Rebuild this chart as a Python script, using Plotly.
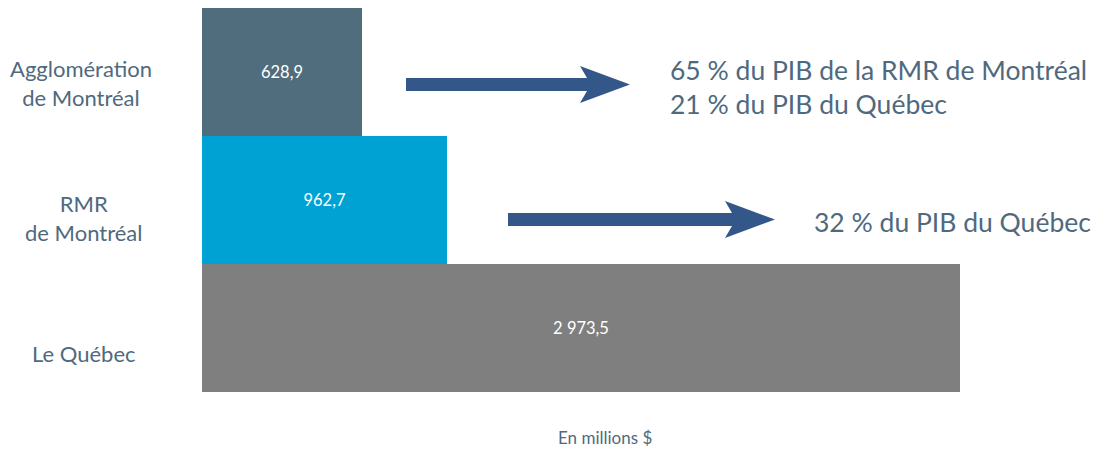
import plotly.graph_objects as go

# ---- data ----
categories = ["Le Québec", "RMR de Montréal", "Agglomération de Montréal"]
axis_labels = ["Le Québec", "RMR<br>de Montréal", "Agglomération<br>de Montréal"]
values = [2973.5, 962.7, 628.9]
value_labels = ["2 973,5", "962,7", "628,9"]
bar_colors = ["#7f7f7f", "#00a2d4", "#506d7e"]
notes_agglo = "65 % du PIB de la RMR de Montréal<br>21 % du PIB du Québec"
notes_rmr = "32 % du PIB du Québec"
x_title = "En millions $"

W, H = 1093, 449
ML, MR, MT, MB = 202, 0, 8, 57
PW = W - ML - MR
PH = H - MT - MB
XMAX = 3495

TEXT = "#4f6a7e"
ARROW = "#34578a"
FONT = "Lato"

def px_x(px):
    return (px - ML) / PW

def px_y(py):
    return 1 - (py - MT) / PH

fig = go.Figure()
fig.add_trace(go.Bar(
    y=categories, x=values, orientation="h",
    marker=dict(color=bar_colors, line=dict(width=0)),
    text=value_labels, textposition="inside", insidetextanchor="middle",
    textfont=dict(color="white", size=16.5, family=FONT),
    hoverinfo="skip",
))

def arrow_path(x0, x1, yc, shaft=6.5, head_h=18.5, head_l=50, notch=7):
    pts = [
        (x0, yc - shaft), (x1 - head_l + notch, yc - shaft), (x1 - head_l, yc - head_h),
        (x1, yc), (x1 - head_l, yc + head_h), (x1 - head_l + notch, yc + shaft), (x0, yc + shaft)
    ]
    return "M " + " L ".join(f"{px_x(a):.5f},{px_y(b):.5f}" for a, b in pts) + " Z"

shapes = [
    dict(type="path", xref="paper", yref="paper", path=arrow_path(406, 630, 84.5),
         fillcolor=ARROW, line=dict(width=0)),
    dict(type="path", xref="paper", yref="paper", path=arrow_path(508, 775, 219.5),
         fillcolor=ARROW, line=dict(width=0)),
]

def ann(text, x, y, size, xanchor="center", align="center"):
    return dict(text=text, x=px_x(x), y=px_y(y), xref="paper", yref="paper",
                xanchor=xanchor, yanchor="middle", showarrow=False, align=align,
                font=dict(size=size, color=TEXT, family=FONT))

annotations = [
    ann(axis_labels[2], 81, 83, 22),
    ann(axis_labels[1], 83, 217.5, 22),
    ann(axis_labels[0], 84, 353, 22),
    ann(notes_agglo, 668, 86.5, 26.5, xanchor="left", align="left"),
    ann(notes_rmr, 812, 221.5, 26.5, xanchor="left", align="left"),
    ann(x_title, 605, 437, 17),
]

fig.update_layout(
    width=W, height=H,
    margin=dict(l=ML, r=MR, t=MT, b=MB),
    paper_bgcolor="white", plot_bgcolor="white",
    bargap=0, showlegend=False,
    xaxis=dict(range=[0, XMAX], visible=False, fixedrange=True),
    yaxis=dict(range=[-0.5, 2.5], visible=False, fixedrange=True,
               categoryorder="array", categoryarray=categories),
    shapes=shapes, annotations=annotations,
    font=dict(family=FONT),
)

fig.write_html(
    "out.html",
    config={"displayModeBar": False},
    post_script="document.body.style.margin='0px';document.documentElement.style.overflow='hidden';",
)
